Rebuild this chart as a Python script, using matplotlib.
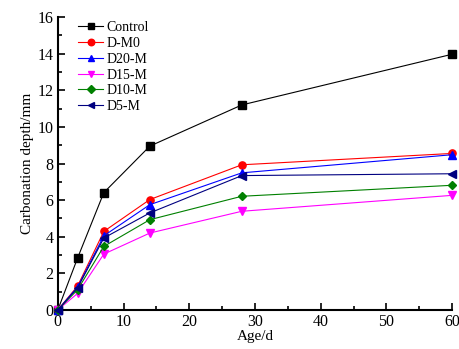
import matplotlib
matplotlib.use("Agg")
import matplotlib.pyplot as plt
from matplotlib.ticker import MultipleLocator

plt.rcParams['font.family'] = ['Liberation Serif', 'DejaVu Serif']

age = [0, 3, 7, 14, 28, 60]
control = [0, 2.83, 6.41, 8.95, 11.2, 13.97]
d_m0 = [0, 1.3, 4.29, 6.03, 7.93, 8.55]
d20_m = [0, 1.25, 4.05, 5.75, 7.49, 8.48]
d15_m = [0, 0.9, 3.05, 4.2, 5.39, 6.26]
d10_m = [0, 1.1, 3.47, 4.93, 6.21, 6.81]
d5_m = [0, 1.2, 3.93, 5.3, 7.34, 7.44]

series = [
    ("Control", control, "black", "s"),
    ("D-M0", d_m0, "red", "o"),
    ("D20-M", d20_m, "blue", "^"),
    ("D15-M", d15_m, "magenta", "v"),
    ("D10-M", d10_m, "green", "D"),
    ("D5-M", d5_m, "navy", "<"),
]

fig = plt.figure(figsize=(4.59, 3.49), dpi=100)
ax = fig.add_axes([0.126, 0.112, 0.859, 0.839])

for name, vals, col, mk in series:
    ms = 4.5 if mk == "D" else 5.2
    ax.plot(age, vals, color=col, marker=mk, markersize=ms, linewidth=0.8,
            label=name, clip_on=False, zorder=3)

ax.set_xlim(0, 60)
ax.set_ylim(0, 16)
ax.xaxis.set_major_locator(MultipleLocator(10))
ax.xaxis.set_minor_locator(MultipleLocator(5))
ax.yaxis.set_major_locator(MultipleLocator(2))
ax.yaxis.set_minor_locator(MultipleLocator(1))
ax.tick_params(which='both', direction='in', labelsize=11.5, width=1.2)
ax.tick_params(which='major', length=5, pad=3)
ax.tick_params(which='minor', length=3)
ax.spines['top'].set_visible(False)
ax.spines['right'].set_visible(False)
ax.spines['left'].set_linewidth(1.5)
ax.spines['bottom'].set_linewidth(1.5)

ax.set_xlabel("Age/d", fontsize=11, labelpad=0)
ax.set_ylabel("Carbonation depth/mm", fontsize=11, labelpad=3)

ax.legend(loc='upper left', frameon=False, fontsize=10, handlelength=1.8,
          handletextpad=0.25, labelspacing=0.2, borderaxespad=0.0,
          markerscale=0.9, bbox_to_anchor=(0.038, 1.005))

fig.savefig("out.png", dpi=100)
